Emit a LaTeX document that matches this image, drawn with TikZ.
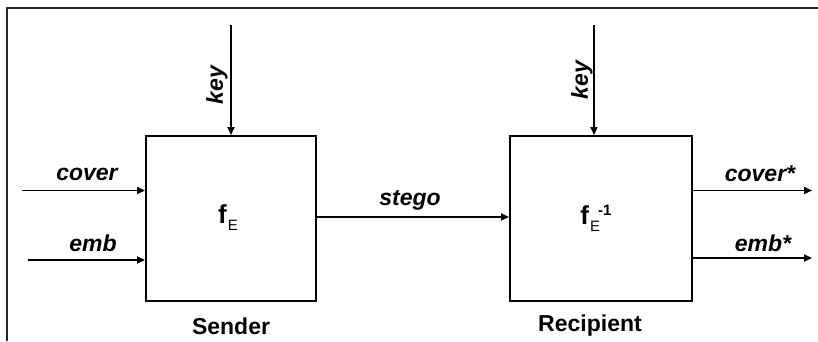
\documentclass[tikz,border=0pt]{standalone}
\usepackage{fontspec}
\setmainfont{Liberation Sans}
\usetikzlibrary{arrows.meta}
\newcommand{\subE}{\raisebox{-7pt}{\fontsize{15}{15}\selectfont E}}
\begin{document}
\begin{tikzpicture}[x=1pt,y=-1pt,
  line width=1.7pt,
  arr/.style={-{Triangle[length=8pt,width=7pt]}},
  blk/.style={draw,line width=1.7pt,minimum width=170pt,minimum height=165pt,inner sep=0pt,anchor=north west},
  lab/.style={font=\fontsize{23}{26}\selectfont\bfseries\itshape,inner sep=0pt},
  ttl/.style={font=\fontsize{23}{26}\selectfont\bfseries,inner sep=0pt},
  fn/.style={font=\fontsize{26}{28}\selectfont,inner sep=0pt}]
\useasboundingbox (0,0) rectangle (818,341);
\fill[white] (0,0) rectangle (818,341);
% frame
\draw[line width=2pt,black!85] (7,341) -- (7,8) -- (818,8);
% blocks
\node[blk] (S) at (145,135) {};
\node[blk,minimum width=182pt] (R) at (509,135) {};
\node[fn] (fS) at (228,218) {\textbf{f}\hspace{1pt}\subE};
\node[fn] (fR) at (596,218) {\textbf{f}\hspace{1pt}\subE\hspace{-2pt}\raisebox{9pt}{\fontsize{15}{15}\selectfont\bfseries -1}};
\node[ttl] (st) at (231,326) {Sender};
\node[ttl] (rt) at (590,326) {Recipient};
% coordinates
\coordinate (k1) at (231,25);
\coordinate (k2) at (594,25);
\coordinate (c1) at (22,190.5);
\coordinate (e1) at (28,260);
\coordinate (c2) at (812,190.5);
\coordinate (e2) at (812,258);
% arrows
\draw[arr] (k1) -- (k1 |- S.north);
\draw[arr] (k2) -- (k2 |- R.north);
\draw[arr] (c1) -- (c1 -| S.west);
\draw[arr] (e1) -- (e1 -| S.west);
\draw[arr] (S.east |- 0,217) -- (R.west |- 0,217);
\draw[arr] (R.east |- c2) -- (c2);
\draw[arr] (R.east |- e2) -- (e2);
% labels
\node[lab] (lc) at (87,174) {cover};
\node[lab] (le) at (93,243) {emb};
\node[lab] (ls) at (410,200) {stego};
\node[lab] (lc2) at (760,174) {cover*};
\node[lab] (le2) at (763,243) {emb*};
\node[lab,rotate=90] (lk1) at (217,85) {key};
\node[lab,rotate=90] (lk2) at (582,80) {key};
\end{tikzpicture}
\end{document}
